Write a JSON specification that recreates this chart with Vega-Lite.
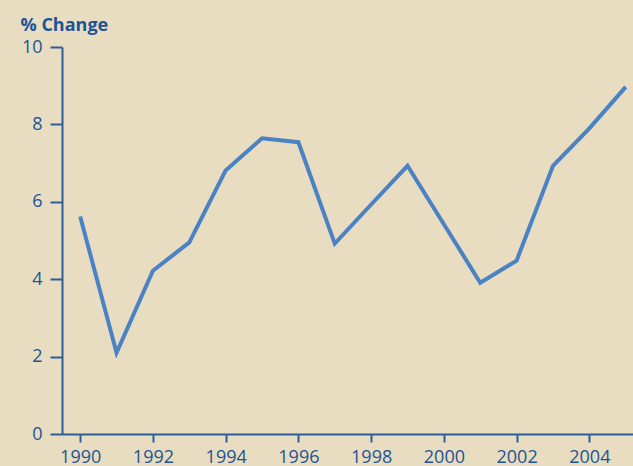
{
  "$schema": "https://vega.github.io/schema/vega-lite/v6.json",
  "width": 571,
  "height": 387,
  "autosize": {"type": "none"},
  "padding": {"left": 62, "top": 47, "right": 0, "bottom": 32},
  "background": "#E8DDC1",
  "config": {
    "view": {"stroke": null},
    "font": "Open Sans",
    "axis": {
      "domainColor": "#2B5F9B",
      "domainWidth": 2,
      "tickColor": "#2B5F9B",
      "tickWidth": 2,
      "labelColor": "#1D5496",
      "labelFont": "Open Sans",
      "labelFontSize": 18,
      "labelFontWeight": 500,
      "grid": false
    }
  },
  "data": {
    "values": [
      {"year": 1990, "change": 5.62},
      {"year": 1991, "change": 2.1},
      {"year": 1992, "change": 4.22},
      {"year": 1993, "change": 4.95},
      {"year": 1994, "change": 6.81},
      {"year": 1995, "change": 7.64},
      {"year": 1996, "change": 7.54},
      {"year": 1997, "change": 4.92},
      {"year": 1998, "change": 5.93},
      {"year": 1999, "change": 6.93},
      {"year": 2000, "change": 5.42},
      {"year": 2001, "change": 3.91},
      {"year": 2002, "change": 4.48},
      {"year": 2003, "change": 6.93},
      {"year": 2004, "change": 7.9},
      {"year": 2005, "change": 8.97}
    ]
  },
  "mark": {"type": "line", "color": "#4A82C4", "strokeWidth": 4, "strokeJoin": "miter", "strokeCap": "butt", "clip": false},
  "encoding": {
    "x": {
      "field": "year",
      "type": "quantitative",
      "scale": {"domain": [1989.5, 2005.2], "nice": false, "zero": false},
      "axis": {
        "title": null,
        "values": [1990, 1992, 1994, 1996, 1998, 2000, 2002, 2004],
        "format": "d",
        "tickSize": 8,
        "labelPadding": 6,
        "labelBaseline": "top"
      }
    },
    "y": {
      "field": "change",
      "type": "quantitative",
      "scale": {"domain": [0, 10], "nice": false},
      "axis": {
        "values": [0, 2, 4, 6, 8, 10],
        "tickSize": 12,
        "labelPadding": 8,
        "title": "% Change",
        "titleAngle": 0,
        "titleAlign": "left",
        "titleBaseline": "alphabetic",
        "titleX": -42,
        "titleY": -17,
        "titleFont": "Open Sans",
        "titleFontSize": 18,
        "titleFontWeight": "bold",
        "titleColor": "#1D5496"
      }
    }
  }
}
